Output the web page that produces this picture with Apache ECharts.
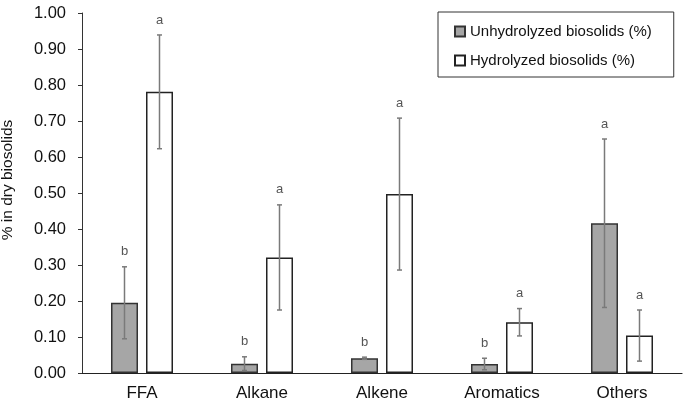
<!DOCTYPE html>
<html>
<head>
<meta charset="utf-8">
<script src="https://cdn.jsdelivr.net/npm/echarts@6/dist/echarts.min.js"></script>
<style>
  html, body { margin: 0; padding: 0; background: #fff; }
  #chart { width: 685px; height: 400px; }
</style>
</head>
<body>
<div id="chart"></div>
<script>
// 数据
const categories = ['FFA', 'Alkane', 'Alkene', 'Aromatics', 'Others'];
const unhydrolyzed = [0.195, 0.026, 0.041, 0.025, 0.416];
const unhydrolyzedErr = [0.10, 0.019, 0.003, 0.016, 0.234];
const hydrolyzed = [0.781, 0.321, 0.497, 0.141, 0.104];
const hydrolyzedErr = [0.158, 0.146, 0.211, 0.038, 0.071];
const unhydrolyzedLetters = ['b', 'b', 'b', 'b', 'a'];
const hydrolyzedLetters = ['a', 'a', 'a', 'a', 'a'];

const FONT = '"Liberation Sans", Arial, sans-serif';
const BAR_W = 27;
const BAR_GAP = 8;

const chart = echarts.init(document.getElementById('chart'));

// 误差线 + 字母标注
const errorSeries = (values, errs, letters, side) => ({
  type: 'custom',
  silent: true,
  z: 10,
  data: values.map((v, i) => [i, v, errs[i]]),
  renderItem: (params, api) => {
    const idx = api.value(0);
    const v = api.value(1);
    const e = api.value(2);
    const offset = side * (BAR_W + BAR_GAP) / 2;
    const top = api.coord([idx, v + e]);
    const bot = api.coord([idx, v - e]);
    const x = top[0] + offset;
    const style = { stroke: '#7a7a7a', lineWidth: 1.5 };
    return {
      type: 'group',
      children: [
        { type: 'line', shape: { x1: x, y1: top[1], x2: x, y2: bot[1] }, style },
        { type: 'line', shape: { x1: x - 2.5, y1: top[1], x2: x + 2.5, y2: top[1] }, style },
        { type: 'line', shape: { x1: x - 2.5, y1: bot[1], x2: x + 2.5, y2: bot[1] }, style },
        {
          type: 'text',
          style: {
            x: x, y: top[1] - 15,
            text: letters[idx],
            fill: '#555', font: '13px ' + FONT,
            align: 'center', verticalAlign: 'middle'
          }
        }
      ]
    };
  }
});

const option = {
  animation: false,
  textStyle: { fontFamily: FONT },
  grid: { left: 82, right: 3, top: 13, bottom: 27, outerBoundsMode: 'none', containLabel: false },
  legend: {
    orient: 'vertical',
    left: 438,
    top: 12,
    padding: [12, 22, 9, 16],
    borderColor: '#333',
    borderWidth: 1,
    itemWidth: 10,
    itemHeight: 10,
    itemGap: 14,
    icon: 'rect',
    textStyle: { fontSize: 15, color: '#111', fontFamily: FONT },
    data: ['Unhydrolyzed biosolids (%)', 'Hydrolyzed biosolids (%)']
  },
  xAxis: {
    type: 'category',
    data: categories,
    axisLine: { lineStyle: { color: '#222', width: 1.2 } },
    axisTick: { show: false },
    axisLabel: { fontSize: 17, color: '#111', margin: 12, fontFamily: FONT }
  },
  yAxis: {
    type: 'value',
    min: 0,
    max: 1,
    interval: 0.1,
    name: '% in dry biosolids',
    nameLocation: 'middle',
    nameGap: 66,
    nameTextStyle: { fontSize: 15.5, color: '#111', fontFamily: FONT, padding: [0, 0, 0, 26] },
    axisLine: { show: true, lineStyle: { color: '#333', width: 1 } },
    axisTick: { show: true, length: 4, lineStyle: { color: '#333' } },
    splitLine: { show: false },
    axisLabel: {
      fontSize: 16.5, color: '#111', margin: 16, fontFamily: FONT,
      formatter: v => v.toFixed(2)
    }
  },
  series: [
    {
      name: 'Unhydrolyzed biosolids (%)',
      type: 'bar',
      data: unhydrolyzed,
      barWidth: BAR_W,
      barGap: (BAR_GAP / BAR_W * 100) + '%',
      itemStyle: { color: '#a6a6a6', borderColor: '#333', borderWidth: 1.5 }
    },
    {
      name: 'Hydrolyzed biosolids (%)',
      type: 'bar',
      data: hydrolyzed,
      barWidth: BAR_W,
      itemStyle: { color: '#fff', borderColor: '#222', borderWidth: 1.5 }
    },
    errorSeries(unhydrolyzed, unhydrolyzedErr, unhydrolyzedLetters, -1),
    errorSeries(hydrolyzed, hydrolyzedErr, hydrolyzedLetters, 1)
  ]
};

chart.setOption(option);
</script>
</body>
</html>
